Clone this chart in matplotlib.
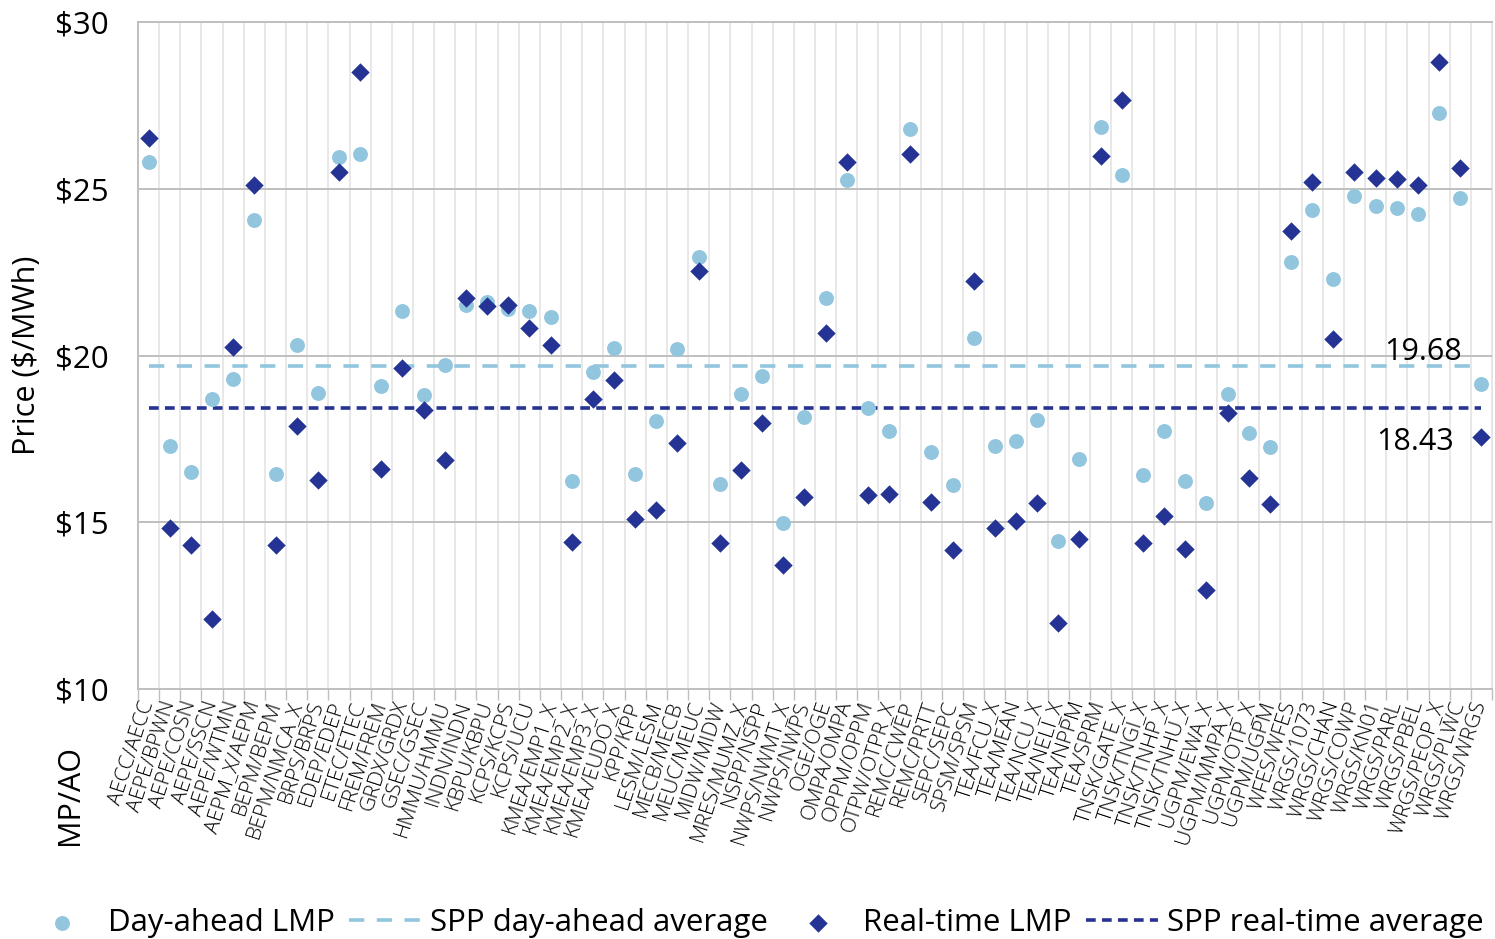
import numpy as np
import matplotlib
matplotlib.use("Agg")
import matplotlib.pyplot as plt
from matplotlib.ticker import FuncFormatter, MultipleLocator

plt.rcParams['font.family'] = ['Open Sans', 'DejaVu Sans']
plt.rcParams['lines.scale_dashes'] = False

# settlement locations (MP/AO)
locations = [
    "AECC/AECC", "AEPE/BPWN", "AEPE/COSN", "AEPE/SSCN", "AEPE/WTMN", "AEPM_X/AEPM",
    "BEPM/BEPM", "BEPM/NMCA_X", "BRPS/BRPS", "EDEP/EDEP", "ETEC/ETEC", "FREM/FREM",
    "GRDX/GRDX", "GSEC/GSEC", "HMMU/HMMU", "INDN/INDN", "KBPU/KBPU", "KCPS/KCPS",
    "KCPS/UCU", "KMEA/EMP1_X", "KMEA/EMP2_X", "KMEA/EMP3_X", "KMEA/EUDO_X", "KPP/KPP",
    "LESM/LESM", "MECB/MECB", "MEUC/MEUC", "MIDW/MIDW", "MRES/MUMZ_X", "NSPP/NSPP",
    "NWPS/NWMT_X", "NWPS/NWPS", "OGE/OGE", "OMPA/OMPA", "OPPM/OPPM", "OTPW/OTPR_X",
    "REMC/CWEP", "REMC/PRTT", "SEPC/SEPC", "SPSM/SPSM", "TEA/FCU_X", "TEA/MEAN",
    "TEA/NCU_X", "TEA/NELI_X", "TEA/NPPM", "TEA/SPRM", "TNSK/GATE_X", "TNSK/TNGI_X",
    "TNSK/TNHP_X", "TNSK/TNHU_X", "UGPM/EWA_X", "UGPM/MMPA_X", "UGPM/OTP_X", "UGPM/UGPM",
    "WFES/WFES", "WRGS/1073", "WRGS/CHAN", "WRGS/COWP", "WRGS/KN01", "WRGS/PARL",
    "WRGS/PBEL", "WRGS/PEOP_X", "WRGS/PLWC", "WRGS/WRGS",
]

day_ahead = [
    25.81, 17.28, 16.50, 18.71, 19.31, 24.07, 16.45, 20.31, 18.88, 25.94,
    26.05, 19.09, 21.34, 18.83, 19.73, 21.52, 21.59, 21.39, 21.34, 21.14,
    16.25, 19.52, 20.23, 16.45, 18.05, 20.21, 22.96, 16.14, 18.86, 19.38,
    14.99, 18.17, 21.71, 25.26, 18.43, 17.74, 26.79, 17.11, 16.12, 20.53,
    17.30, 17.43, 18.07, 14.45, 16.90, 26.84, 25.42, 16.43, 17.75, 16.25,
    15.57, 18.84, 17.69, 17.25, 22.81, 24.36, 22.29, 24.77, 24.49, 24.43,
    24.24, 27.28, 24.72, 19.15,
]

real_time = [
    26.53, 14.83, 14.32, 12.11, 20.27, 25.12, 14.33, 17.89, 16.26, 25.50,
    28.50, 16.61, 19.63, 18.38, 16.88, 21.72, 21.47, 21.52, 20.82, 20.32,
    14.42, 18.69, 19.27, 15.10, 15.37, 17.38, 22.52, 14.37, 16.56, 17.97,
    13.73, 15.76, 20.66, 25.80, 15.81, 15.84, 26.03, 15.62, 14.16, 22.24,
    14.83, 15.04, 15.58, 11.98, 14.49, 25.99, 27.65, 14.37, 15.19, 14.20,
    12.97, 18.28, 16.32, 15.54, 23.73, 25.21, 20.50, 25.50, 25.33, 25.30,
    25.12, 28.79, 25.63, 17.57,
]

DA_AVG = 19.68
RT_AVG = 18.43

LIGHT = '#92C5DE'
DARK = '#253494'

fig = plt.figure(figsize=(14.95, 9.39), dpi=100)
ax = fig.add_axes([0.0923, 0.2662, 0.9057, 0.7104])

x = np.arange(len(locations))

# points
ax.scatter(x, day_ahead, s=115, marker='o', color=LIGHT, zorder=4, linewidths=0,
           label='Day-ahead LMP')
ax.plot(x, [DA_AVG] * len(x), color=LIGHT, lw=2.6, dashes=(11, 9), zorder=3,
        label='SPP day-ahead average')
ax.scatter(x, real_time, s=88, marker='D', color=DARK, zorder=5, linewidths=0,
           label='Real-time LMP')
ax.plot(x, [RT_AVG] * len(x), color=DARK, lw=2.6, dashes=(7, 4.5), zorder=3,
        label='SPP real-time average')

# average labels
ax.text(62.1, DA_AVG + 0.19, f"{DA_AVG:.2f}", ha='right', va='baseline', fontsize=22)
ax.text(61.7, RT_AVG - 1.26, f"{RT_AVG:.2f}", ha='right', va='baseline', fontsize=22)

ax.set_xlim(-0.5, len(locations) - 0.5)
ax.set_ylim(10, 30)
ax.yaxis.set_major_locator(MultipleLocator(5))
ax.yaxis.set_major_formatter(FuncFormatter(lambda v, p: f"${v:.0f}"))

ax.set_xticks(x)
ax.set_xticklabels(locations, rotation=72, ha='right', va='center',
                   rotation_mode='anchor', fontsize=15.3, fontweight='light')
ax.set_xticks(np.arange(-0.5, len(locations)), minor=True)

ax.tick_params(axis='x', which='major', length=0, pad=9)
ax.tick_params(axis='x', which='minor', length=8, color='#BFBFBF', width=1)
ax.tick_params(axis='y', length=0, pad=21, labelsize=22.5)

ax.grid(axis='y', which='major', color='#BFBFBF', lw=1.4, zorder=0)
ax.grid(axis='x', which='minor', color='#E6E6E6', lw=1.3, zorder=0)
ax.set_axisbelow(True)

for side in ['top', 'left', 'bottom']:
    ax.spines[side].set_color('#BFBFBF')
    ax.spines[side].set_linewidth(1.4)
ax.spines['right'].set_color('#E6E6E6')

fig.text(0.018, 0.622, 'Price ($/MWh)', rotation=90, ha='center', va='center', fontsize=22)
fig.text(0.047, 0.153, 'MP/AO', rotation=90, ha='center', va='center', fontsize=22)

fig.legend(loc='center', bbox_to_anchor=(0.505, 0.017), ncol=4, frameon=False,
           fontsize=22.5, handlelength=2.3, handletextpad=0.3, columnspacing=0.45,
           borderpad=0, borderaxespad=0)

fig.savefig('out.png', dpi=100)
